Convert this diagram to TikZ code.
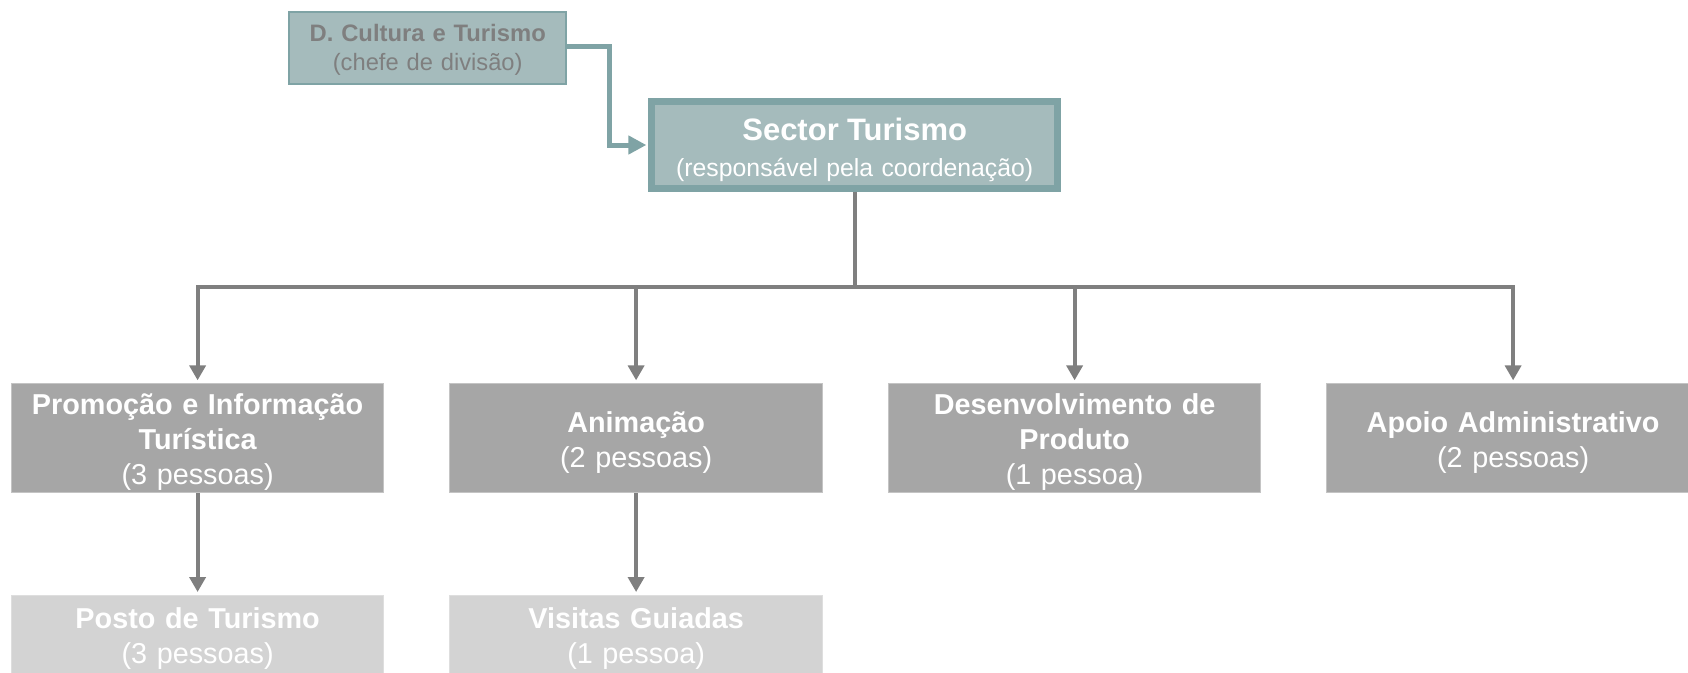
\documentclass[tikz,border=0pt]{standalone}
\usepackage{fontspec}
\setmainfont{Liberation Sans}
\usetikzlibrary{arrows.meta}
\definecolor{tealfill}{HTML}{A5BBBC}
\definecolor{tealline}{HTML}{7FA3A5}
\definecolor{dcgray}{HTML}{7F7F7F}
\definecolor{lvtwo}{HTML}{A6A6A6}
\definecolor{lvtwoline}{HTML}{C4C4C4}
\definecolor{lvthree}{HTML}{D3D3D3}
\definecolor{lvthreeline}{HTML}{DEDEDE}
\definecolor{conn}{HTML}{7F7F7F}
\newcommand{\lvbold}[1]{{\bfseries #1}}
\begin{document}
\begin{tikzpicture}[x=1pt,y=-1pt,
  dcbox/.style={fill=tealfill, draw=tealline, line width=2pt, minimum width=276.7pt, minimum height=72.3pt, inner sep=0pt},
  dctext/.style={text=dcgray, align=center, text width=276pt, inner sep=0pt, font=\fontsize{23.7}{29}\selectfont},
  sectorbox/.style={fill=tealfill, draw=tealline, line width=6.7pt, minimum width=406pt, minimum height=86.7pt, inner sep=0pt},
  sectortext/.style={text=white, align=center, text width=400pt, inner sep=0pt, font=\fontsize{24.8}{36}\selectfont},
  lvtwobox/.style={fill=lvtwo, draw=lvtwoline, line width=1pt, minimum width=372.5pt, minimum height=108.7pt, inner sep=0pt},
  lvthreebox/.style={fill=lvthree, draw=lvthreeline, line width=1pt, minimum width=372.5pt, minimum height=83pt, inner sep=0pt},
  lvtext/.style={text=white, align=center, text width=372pt, inner sep=0pt, font=\fontsize{28.8}{35}\selectfont},
  tealarrow/.style={draw=tealline, line width=5pt, -{Triangle[width=18pt,length=18pt]}, shorten >=2pt},
  connline/.style={draw=conn, line width=4pt},
  connarrow/.style={draw=conn, line width=4pt, -{Triangle[width=16pt,length=15pt]}, shorten >=3pt}
]
\useasboundingbox (0,0) rectangle (1688,672);
\clip (0,0) rectangle (1688,672);

\node[dcbox] (dc) at (427.7,47.9) {};
\node[dctext] (dct) at ([yshift=-2pt]dc.center) {{\fontsize{23.8}{29}\selectfont\bfseries D. Cultura e Turismo}\\(chefe de divisão)};
\node[sectorbox] (sector) at (854.7,145) {};
\node[sectortext] (sectort) at ([yshift=-5pt]sector.center) {{\fontsize{31}{36}\selectfont\bfseries Sector Turismo}\\(responsável pela coordenação)};

\node[lvtwobox] (prom) at (197.6,438.2) {};
\node[lvtwobox] (anim) at (636.1,438.2) {};
\node[lvtwobox] (dev) at (1074.6,438.2) {};
\node[lvtwobox] (apoio) at (1513.1,438.2) {};
\node[lvtext] (promt) at ([yshift=-4pt]prom.center) {\lvbold{Promoção e Informação}\\\lvbold{Turística}\\(3 pessoas)};
\node[lvtext] (animt) at ([yshift=-4pt]anim.center) {\lvbold{Animação}\\(2 pessoas)};
\node[lvtext] (devt) at ([yshift=-4pt]dev.center) {\lvbold{Desenvolvimento de}\\\lvbold{Produto}\\(1 pessoa)};
\node[lvtext] (apoiot) at ([yshift=-4pt]apoio.center) {\lvbold{Apoio Administrativo}\\(2 pessoas)};

\node[lvthreebox] (posto) at (197.6,637) {};
\node[lvthreebox] (visit) at (636.1,637) {};
\node[lvtext] (postot) at ([yshift=-2pt]posto.center) {\lvbold{Posto de Turismo}\\(3 pessoas)};
\node[lvtext] (visitt) at ([yshift=-2pt]visit.center) {\lvbold{Visitas Guiadas}\\(1 pessoa)};

\coordinate (bus) at (854.7,286.7);

\draw[tealarrow] ([yshift=1.2pt]dc.east) -- ++(42,0) |- (sector.west);

\draw[connline] (sector.south) -- (bus);
\draw[connline] (prom.north |- bus) -- (apoio.north |- bus);
\draw[connarrow] (bus) -| (prom.north);
\draw[connarrow] (bus) -| (anim.north);
\draw[connarrow] (bus) -| (dev.north);
\draw[connarrow] (bus) -| (apoio.north);

\draw[connarrow] (prom.south) -- (posto.north);
\draw[connarrow] (anim.south) -- (visit.north);
\end{tikzpicture}
\end{document}
